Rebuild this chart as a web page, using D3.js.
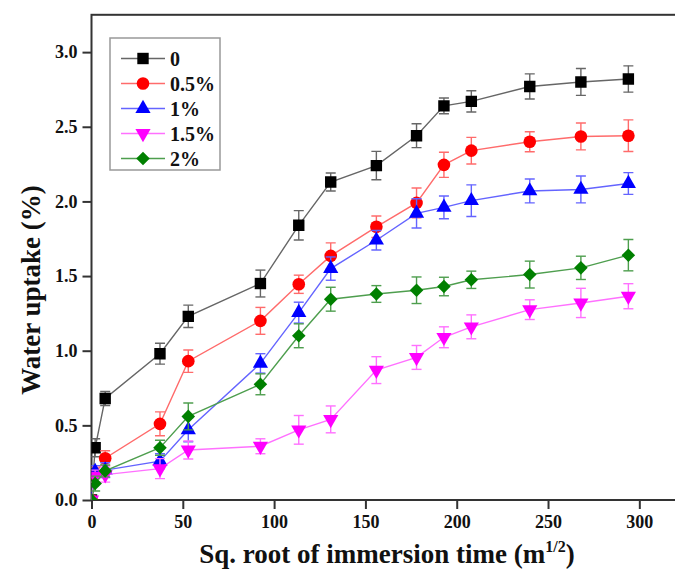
<!DOCTYPE html>
<html>
<head>
<meta charset="utf-8">
<script src="https://cdn.jsdelivr.net/npm/d3@7"></script>
<style>
  body { margin: 0; background: #fff; }
  svg text { font-family: "Liberation Serif", "Times New Roman", serif; font-weight: bold; fill: #111; }
</style>
</head>
<body>
<div id="chart"></div>
<script>
var width = 675;
var height = 584;

// sq. root of immersion time
var xValues = [0, 2, 7.5, 37.5, 53, 92.5, 113.5, 131, 156, 178, 193, 208, 240, 268, 294];

// water uptake (%) and error per content
var water0 = [0, 0.35, 0.68, 0.98, 1.23, 1.45, 1.84, 2.13, 2.24, 2.44, 2.64, 2.67, 2.77, 2.80, 2.82];
var err0 = [0, 0.06, 0.047, 0.07, 0.075, 0.09, 0.098, 0.06, 0.095, 0.08, 0.053, 0.071, 0.084, 0.09, 0.088];

var water05 = [0, 0.17, 0.28, 0.51, 0.93, 1.20, 1.445, 1.635, 1.83, 1.99, 2.245, 2.34, 2.40, 2.435, 2.44];
var err05 = [0, 0.05, 0.05, 0.08, 0.075, 0.09, 0.061, 0.087, 0.072, 0.1, 0.084, 0.089, 0.067, 0.09, 0.106];

var water1 = [0, 0.19, 0.20, 0.26, 0.47, 0.915, 1.255, 1.55, 1.74, 1.92, 1.96, 2.005, 2.07, 2.08, 2.12];
var err1 = [0, 0.04, 0.05, 0.05, 0.08, 0.065, 0.07, 0.078, 0.065, 0.098, 0.076, 0.106, 0.08, 0.09, 0.073];

var water15 = [0, 0.16, 0.17, 0.21, 0.335, 0.36, 0.47, 0.54, 0.87, 0.955, 1.09, 1.16, 1.275, 1.32, 1.365];
var err15 = [0, 0.04, 0.05, 0.067, 0.06, 0.05, 0.096, 0.09, 0.09, 0.08, 0.07, 0.08, 0.066, 0.098, 0.084];

var water2 = [0, 0.11, 0.195, 0.35, 0.56, 0.775, 1.10, 1.345, 1.38, 1.405, 1.43, 1.475, 1.51, 1.555, 1.64];
var err2 = [0, 0.05, 0.04, 0.05, 0.09, 0.07, 0.08, 0.08, 0.056, 0.089, 0.062, 0.058, 0.09, 0.078, 0.105];

var labels = ["0", "0.5%", "1%", "1.5%", "2%"];
var xTicks = [0, 50, 100, 150, 200, 250, 300];
var yTicks = [0, 0.5, 1.0, 1.5, 2.0, 2.5, 3.0];

var series = [
    { name: labels[0], values: water0, errors: err0, color: "#000000", line: "#666666", symbol: d3.symbolSquare, size: 130, rot: 0 },
    { name: labels[1], values: water05, errors: err05, color: "#ff0000", line: "#ff6b6b", symbol: d3.symbolCircle, size: 125, rot: 0 },
    { name: labels[2], values: water1, errors: err1, color: "#0000ff", line: "#6464ff", symbol: d3.symbolTriangle, size: 100, rot: 0 },
    { name: labels[3], values: water15, errors: err15, color: "#ff00ff", line: "#ff70ff", symbol: d3.symbolTriangle, size: 100, rot: 180 },
    { name: labels[4], values: water2, errors: err2, color: "#008000", line: "#4e9e4e", symbol: d3.symbolSquare, size: 92, rot: 45 }
];

var plot = { left: 91.5, right: 679.5, top: 14.8, bottom: 500 };

var x = d3.scaleLinear().domain([0, 322]).range([plot.left, plot.right]);
var y = d3.scaleLinear().domain([0, 3.25]).range([plot.bottom, plot.top]);

var svg = d3.select("#chart").append("svg")
    .attr("width", width)
    .attr("height", height);

svg.append("clipPath").attr("id", "plotclip")
    .append("rect")
    .attr("x", plot.left).attr("y", plot.top)
    .attr("width", plot.right - plot.left).attr("height", plot.bottom - plot.top);

// frame
svg.append("rect")
    .attr("x", plot.left).attr("y", plot.top)
    .attr("width", plot.right - plot.left).attr("height", plot.bottom - plot.top)
    .attr("fill", "none").attr("stroke", "#333").attr("stroke-width", 2);

// axes
var xAxis = svg.append("g")
    .attr("transform", "translate(0," + plot.bottom + ")")
    .call(d3.axisBottom(x).tickValues(xTicks).tickSize(9).tickPadding(6).tickFormat(d3.format("d")));
var yAxis = svg.append("g")
    .attr("transform", "translate(" + plot.left + ",0)")
    .call(d3.axisLeft(y).tickValues(yTicks).tickSize(9).tickPadding(5).tickFormat(d3.format(".1f")));

[xAxis, yAxis].forEach(function(a) {
    a.select(".domain").remove();
    a.selectAll(".tick line").attr("stroke", "#333").attr("stroke-width", 2);
    a.selectAll(".tick text").style("font-size", "18px").attr("fill", "#111");
});

// data
var dataLayer = svg.append("g").attr("clip-path", "url(#plotclip)");

var line = d3.line()
    .x(function(d) { return x(d.x); })
    .y(function(d) { return y(d.y); });

series.forEach(function(s) {
    var pts = xValues.map(function(v, i) { return { x: v, y: s.values[i], e: s.errors[i] }; });
    var g = dataLayer.append("g");

    g.append("path")
        .datum(pts)
        .attr("d", line)
        .attr("fill", "none")
        .attr("stroke", s.line)
        .attr("stroke-width", 1.4);

    var bars = g.selectAll(".err")
        .data(pts.filter(function(d) { return d.e > 0; }))
        .enter().append("g")
        .attr("stroke", s.line)
        .attr("stroke-width", 1.4);
    bars.append("line")
        .attr("x1", function(d) { return x(d.x); }).attr("x2", function(d) { return x(d.x); })
        .attr("y1", function(d) { return y(d.y - d.e); }).attr("y2", function(d) { return y(d.y + d.e); });
    bars.append("line")
        .attr("x1", function(d) { return x(d.x) - 5; }).attr("x2", function(d) { return x(d.x) + 5; })
        .attr("y1", function(d) { return y(d.y + d.e); }).attr("y2", function(d) { return y(d.y + d.e); });
    bars.append("line")
        .attr("x1", function(d) { return x(d.x) - 5; }).attr("x2", function(d) { return x(d.x) + 5; })
        .attr("y1", function(d) { return y(d.y - d.e); }).attr("y2", function(d) { return y(d.y - d.e); });

    g.selectAll(".pt")
        .data(pts)
        .enter().append("path")
        .attr("d", d3.symbol().type(s.symbol).size(s.size))
        .attr("transform", function(d) {
            return "translate(" + x(d.x) + "," + y(d.y) + ") rotate(" + s.rot + ")";
        })
        .attr("fill", s.color);
});

// legend
var legend = svg.append("g").attr("transform", "translate(110,38)");
legend.append("rect")
    .attr("width", 110).attr("height", 132)
    .attr("fill", "#fff").attr("stroke", "#999").attr("stroke-width", 1.5);

var rows = legend.selectAll(".row")
    .data(series)
    .enter().append("g")
    .attr("transform", function(d, i) { return "translate(0," + (20.5 + i * 25) + ")"; });
rows.append("line")
    .attr("x1", 11).attr("x2", 55).attr("y1", 0).attr("y2", 0)
    .attr("stroke", function(d) { return d.line; }).attr("stroke-width", 1.4);
rows.append("path")
    .attr("d", function(d) { return d3.symbol().type(d.symbol).size(d.size)(); })
    .attr("transform", function(d) { return "translate(33,0) rotate(" + d.rot + ")"; })
    .attr("fill", function(d) { return d.color; });
rows.append("text")
    .attr("x", 60).attr("y", 7)
    .style("font-size", "20px")
    .text(function(d) { return d.name; });

// axis titles
svg.append("text")
    .attr("transform", "translate(40,290) rotate(-90)")
    .attr("text-anchor", "middle")
    .style("font-size", "27px")
    .text("Water uptake (%)");

var xt = svg.append("text")
    .attr("x", 387).attr("y", 563)
    .attr("text-anchor", "middle")
    .style("font-size", "27px");
xt.append("tspan").text("Sq. root of immersion time (m");
xt.append("tspan").attr("dy", -11).style("font-size", "16px").text("1/2");
xt.append("tspan").attr("dy", 11).text(")");
</script>
</body>
</html>
